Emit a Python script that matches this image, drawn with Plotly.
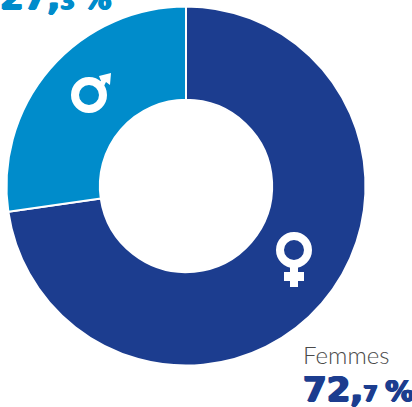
import plotly.graph_objects as go

categories = ["Femmes", "Hommes"]
values = [72.7, 27.3]
colors = ["#1c3d8f", "#008ccb"]
W, H = 412, 407

def px(x): return x / W
def py(y): return 1 - y / H

fig = go.Figure(go.Pie(
    labels=categories, values=values, hole=0.48, sort=False, direction="clockwise",
    rotation=0, textinfo="none", hoverinfo="label+percent",
    marker=dict(colors=colors, line=dict(color="#ffffff", width=2)),
    domain=dict(x=[px(6.5), px(365.5)], y=[py(365.5), py(6.5)]),
))

def big(a, b, x, y, c):
    s = "1px 0 0 {c}, -1px 0 0 {c}, 0 0.5px 0 {c}, 0 -0.5px 0 {c}".format(c=c)
    f = dict(family="DejaVu Sans", size=34, weight=700, color=c, shadow=s)
    return dict(text=f"{a}<span style='font-size:21px'>{b} </span><span style='font-size:29px'>%</span>",
                x=px(x), y=py(y), xref="paper", yref="paper", xanchor="left", yanchor="bottom",
                showarrow=False, font=f, borderpad=0)

ann = [
    big("72,", "7", 302, 410, colors[0]),
    big("27,", "3", -1, 18, colors[1]),
    dict(text="Femmes", x=px(302), y=py(370), xref="paper", yref="paper", xanchor="left", yanchor="bottom",
         showarrow=False, borderpad=0, font=dict(family="Lato", size=24, weight=300, color="#4a4a4a")),
]

white = "#ffffff"
def pshape(**k):
    return dict(xref="paper", yref="paper", **k)

def ring(cx, cy, r, w):
    return pshape(type="circle", x0=px(cx - r), x1=px(cx + r), y0=py(cy + r), y1=py(cy - r),
                  line=dict(color=white, width=w), fillcolor="rgba(0,0,0,0)")

def rect(x0, y0, x1, y1):
    return pshape(type="rect", x0=px(x0), x1=px(x1), y0=py(y1), y1=py(y0), line=dict(width=0), fillcolor=white)

def poly(pts):
    d = "M" + " L".join(f"{px(x):.5f},{py(y):.5f}" for x, y in pts) + " Z"
    return pshape(type="path", path=d, line=dict(width=0), fillcolor=white)

shapes = [
    ring(294, 250, 14, 8),
    rect(290, 266, 298, 287),
    rect(284, 272, 304, 281),
    ring(89, 95, 14, 8),
    poly([(94, 84), (101, 81), (99, 76), (111, 73), (110, 85), (106, 82), (101, 92)]),
]

fig.update_layout(width=W, height=H, margin=dict(l=0, r=0, t=0, b=0), showlegend=False,
                  paper_bgcolor="#ffffff", plot_bgcolor="#ffffff", annotations=ann, shapes=shapes)
fig.write_html("out.html", config={"displayModeBar": False},
               post_script="document.body.style.margin='0';")
